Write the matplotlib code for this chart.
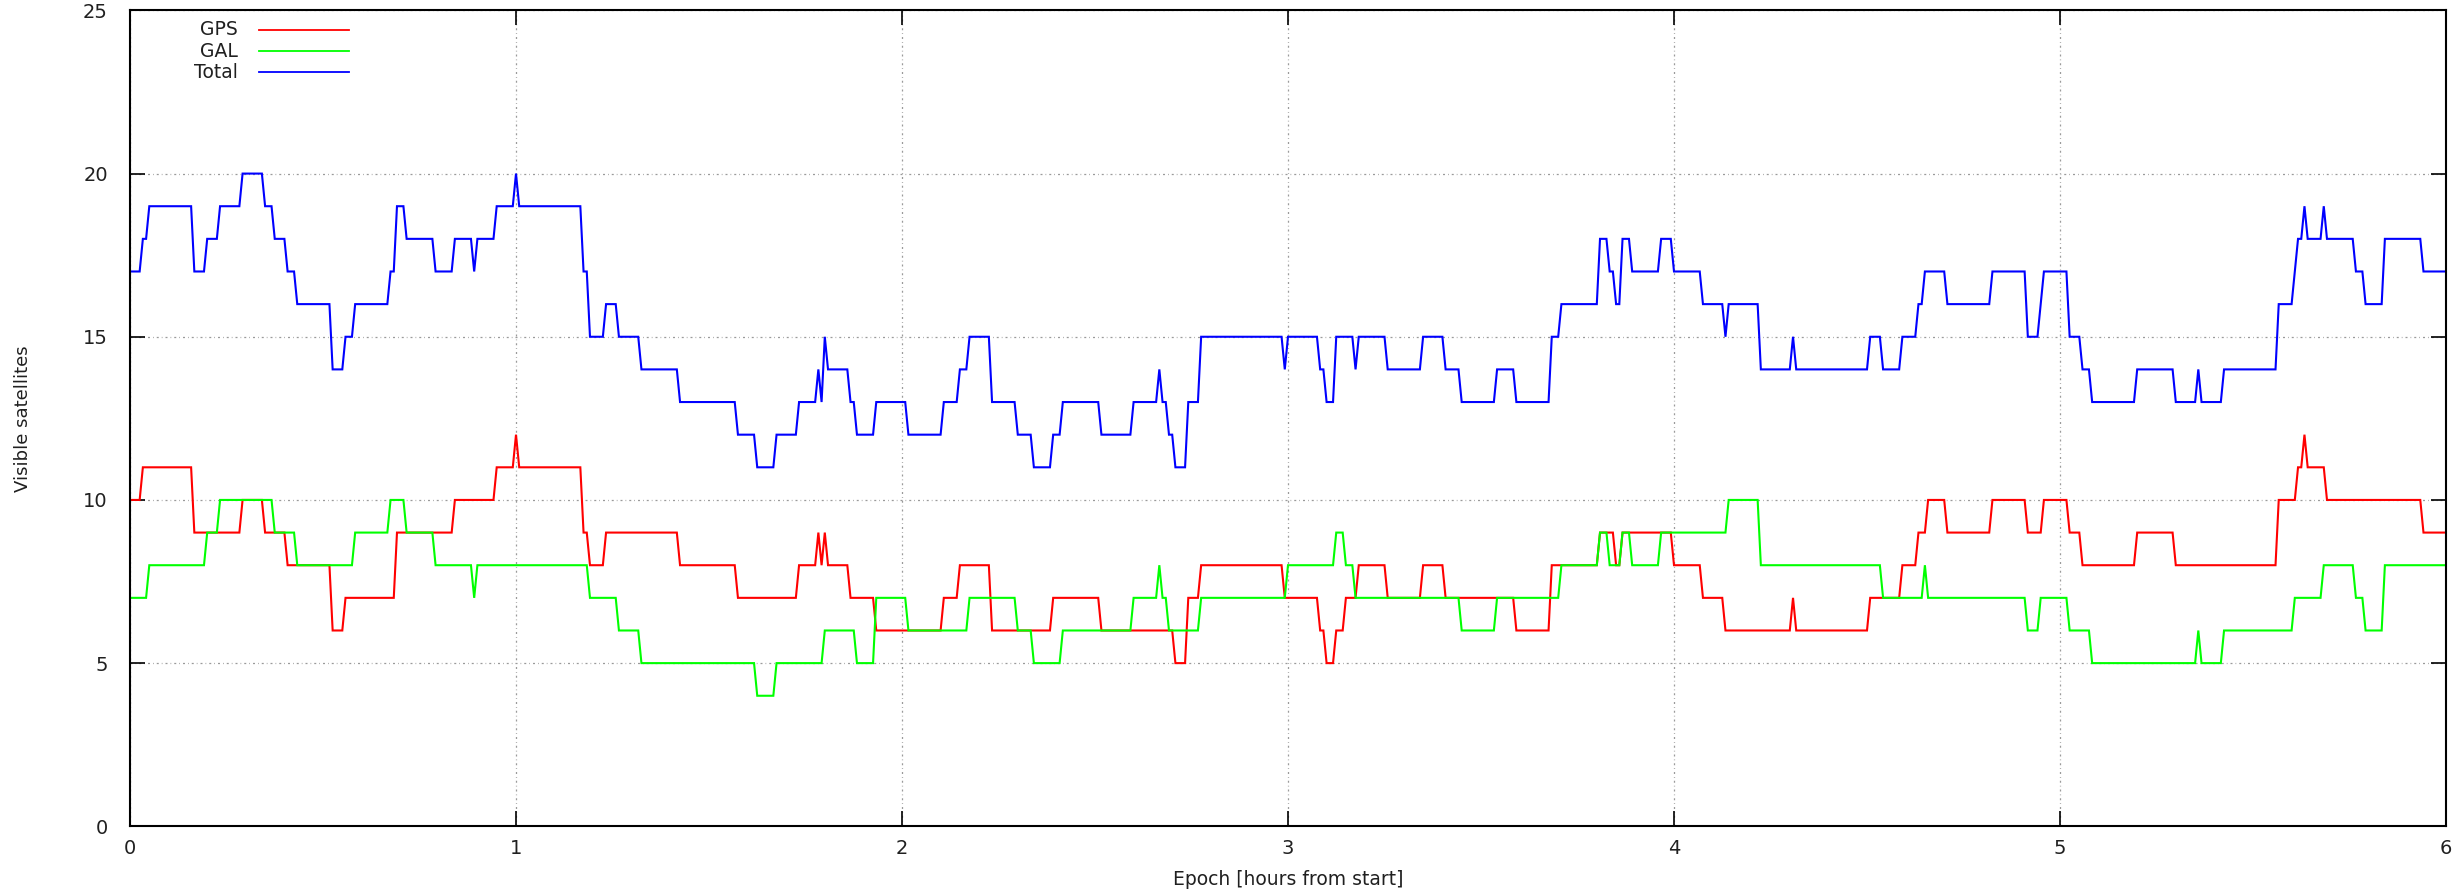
import numpy as np
import matplotlib
matplotlib.use("Agg")
import matplotlib.pyplot as plt

# ---------------- data (change points) ----------------
gps_times = [0.000, 0.030, 0.168, 0.289, 0.350, 0.410, 0.523, 0.561, 0.695, 0.842,
             0.950, 1.000, 1.008, 1.173, 1.192, 1.235, 1.428, 1.578, 1.731, 1.785,
             1.791, 1.798, 1.807, 1.863, 1.933, 2.110, 2.151, 2.235, 2.392, 2.520,
             2.706, 2.741, 2.778, 2.989, 3.084, 3.101, 3.127, 3.148, 3.185, 3.259,
             3.354, 3.408, 3.592, 3.682, 3.809, 3.848, 3.867, 4.000, 4.078, 4.134,
             4.307, 4.315, 4.511, 4.589, 4.630, 4.656, 4.706, 4.825, 4.915, 4.959,
             5.023, 5.060, 5.198, 5.300, 5.565, 5.614, 5.634, 5.642, 5.694, 5.941]
gps_levels = [10, 11, 9, 10, 9, 8, 6, 7, 9, 10,
              11, 12, 11, 9, 8, 9, 8, 7, 8, 9,
              8, 9, 8, 7, 6, 7, 8, 6, 7, 6,
              5, 7, 8, 7, 6, 5, 6, 7, 8, 7,
              8, 7, 6, 8, 9, 8, 9, 8, 7, 6,
              7, 6, 7, 8, 9, 10, 9, 10, 9, 10,
              9, 8, 9, 8, 10, 11, 12, 11, 10, 9]

gal_times = [0.000, 0.050, 0.199, 0.233, 0.373, 0.433, 0.585, 0.674, 0.717, 0.788,
             0.891, 0.896, 1.192, 1.266, 1.325, 1.627, 1.677, 1.803, 1.887, 1.933,
             2.019, 2.176, 2.302, 2.343, 2.417, 2.596, 2.663, 2.672, 2.693, 2.778,
             3.003, 3.124, 3.146, 3.179, 3.451, 3.539, 3.708, 3.809, 3.833, 3.863,
             3.893, 3.970, 4.140, 4.223, 4.542, 4.652, 4.661, 4.920, 4.950, 5.029,
             5.082, 5.357, 5.365, 5.423, 5.608, 5.681, 5.766, 5.790, 5.844]
gal_levels = [7, 8, 9, 10, 9, 8, 9, 10, 9, 8,
              7, 8, 7, 6, 5, 4, 5, 6, 5, 7,
              6, 7, 6, 5, 6, 7, 8, 7, 6, 7,
              8, 9, 8, 7, 6, 7, 8, 9, 8, 9,
              8, 9, 10, 8, 7, 8, 7, 6, 7, 6,
              5, 6, 5, 6, 7, 8, 7, 6, 8]

series_names = ["GPS", "GAL", "Total"]
series_colors = ["#ff0000", "#00ff00", "#0000ff"]
x_ticks = [0, 1, 2, 3, 4, 5, 6]
y_ticks = [0, 5, 10, 15, 20, 25]

# 30 s epochs over 6 hours
epoch_step = 1.0 / 120.0
epochs = np.arange(0, 6 + epoch_step / 2, epoch_step)


def expand(times, levels):
    k = np.round(np.asarray(times) / epoch_step)
    idx = np.searchsorted(k, np.arange(len(epochs)), side="right") - 1
    return np.asarray(levels)[idx]


gps = expand(gps_times, gps_levels)
gal = expand(gal_times, gal_levels)
total = gps + gal

# ---------------- figure ----------------
fig = plt.figure(figsize=(24.59, 8.90), dpi=100)
ax = fig.add_axes([130 / 2459, 1 - 826.3 / 890, (2446 - 130) / 2459, (826.3 - 10.4) / 890])

for y, c in zip([gps, gal, total], series_colors):
    ax.plot(epochs, y, color=c, lw=1.5, solid_joinstyle="miter")

ax.set_xlim(0, 6)
ax.set_ylim(0, 25)
ax.set_xticks(x_ticks)
ax.set_yticks(y_ticks)
ax.tick_params(axis="both", which="major", direction="in", length=11, width=1.2,
               labelsize=14, top=True, right=True, color="black", labelcolor="#202020")
ax.tick_params(axis="y", pad=16)
ax.tick_params(axis="x", pad=9)
for s in ax.spines.values():
    s.set_linewidth(1.5)
    s.set_color("black")

ax.grid(True, color="#9a9a9a", lw=0.9, linestyle=(0, (1.6, 2.4, 0.6, 2.4)))
ax.set_axisbelow(True)

ax.set_xlabel("Epoch [hours from start]", fontsize=13.5, color="#202020")
ax.xaxis.set_label_coords(0.5, -0.053)
ax.set_ylabel("Visible satellites", fontsize=13, color="#202020")
ax.yaxis.set_label_coords(-0.0425, 0.5)

# gnuplot-style key: right-aligned text followed by a line sample
row_y = [0.976, 0.950, 0.924]
for name, c, yy in zip(series_names, series_colors, row_y):
    ax.text(0.0466, yy, name, transform=ax.transAxes, ha="right", va="center",
            fontsize=13.5, color="#202020")
    ax.plot([0.0557, 0.0946], [yy, yy], transform=ax.transAxes, color=c, lw=1.3)

fig.savefig("out.png", dpi=100)
